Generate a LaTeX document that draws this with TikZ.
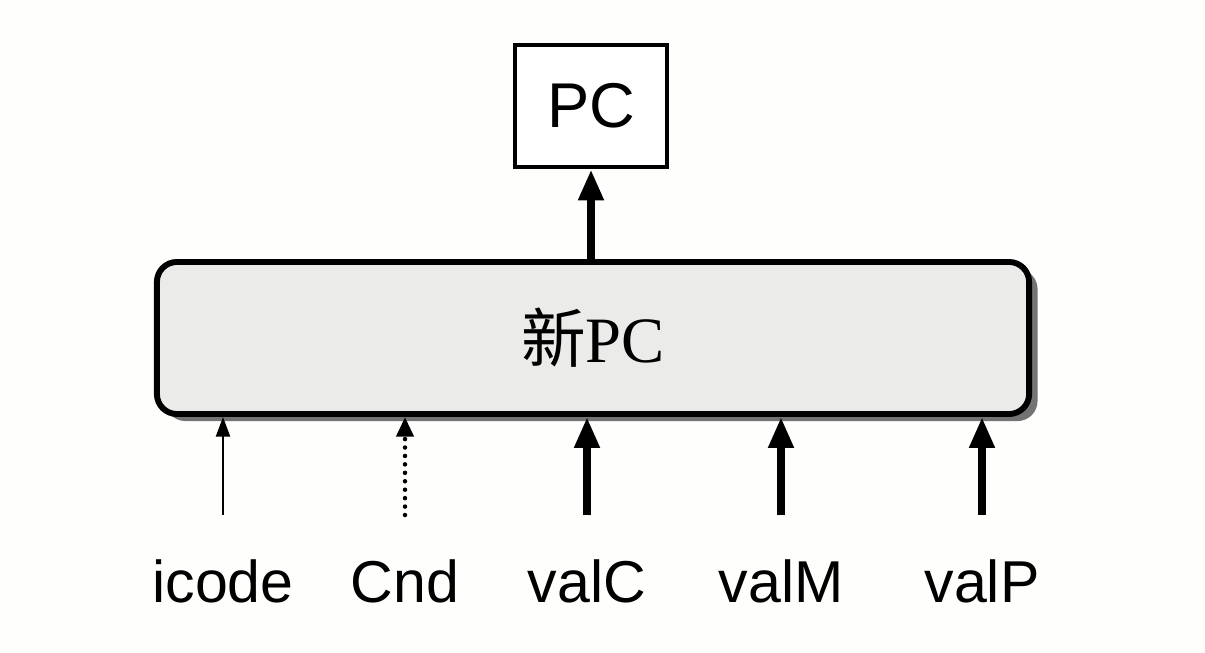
\documentclass[tikz,border=0pt]{standalone}
\usepackage{fontspec}
\setmainfont{Liberation Serif}
\setsansfont{Liberation Sans}
\newfontfamily\cjk{Noto Sans CJK SC}
\usepackage{xcolor}
\definecolor{paper}{HTML}{FEFEFC}
\definecolor{boxfill}{HTML}{EBEBEA}
\usetikzlibrary{arrows.meta,positioning,shadows,calc}

\begin{document}
\begin{tikzpicture}[
  x=0.025cm, y=-0.025cm,
  reg/.style={rectangle, draw=black, fill=white, line width=3.4pt,
              minimum width=3.8cm, minimum height=3.05cm,
              font=\sffamily\fontsize{45}{50}\selectfont},
  logic/.style={rectangle, rounded corners=0.5cm, draw=black, fill=boxfill,
                line width=4.2pt, minimum width=21.8cm, minimum height=3.8cm,
                drop shadow={shadow xshift=6pt, shadow yshift=-5pt, fill=black!55, opacity=1},
                font=\fontsize{46}{50}\selectfont},
  sig/.style={font=\sffamily\fontsize{42}{48}\selectfont, anchor=base, inner sep=0pt},
  word/.style={-{Triangle[length=22pt, width=17pt]}, line width=6.2pt},
  bit/.style={-{Triangle[length=14pt, width=10pt]}, line width=1.5pt},
  flag/.style={-{Triangle[length=14pt, width=12pt]}, line width=3.2pt,
               dash pattern=on 0pt off 6pt, line cap=round},
]
\fill[paper] (0,0) rectangle (1205,652);
\useasboundingbox (0,0) rectangle (1205,652);

% ---- the register and the logic that feeds it
\node[reg] (pc) at (591,106) {PC};
\node[logic] (npc) at (593,338) {{\cjk 新}PC};
\draw[word] (npc.north -| pc) -- (pc.south);

% ---- the signals entering from below
\foreach \s/\x in {icode/223, Cnd/405, valC/587, valM/781, valP/982} {
  \node[sig] (\s) at (\x,602) {\s};
  \coordinate (\s-in) at (\x,515);
}
\draw[bit] (icode-in) -- (icode-in |- npc.south);
\draw[flag] (Cnd-in) -- (Cnd-in |- npc.south);
\foreach \s in {valC, valM, valP} { \draw[word] (\s-in) -- (\s-in |- npc.south); }
\end{tikzpicture}
\end{document}
